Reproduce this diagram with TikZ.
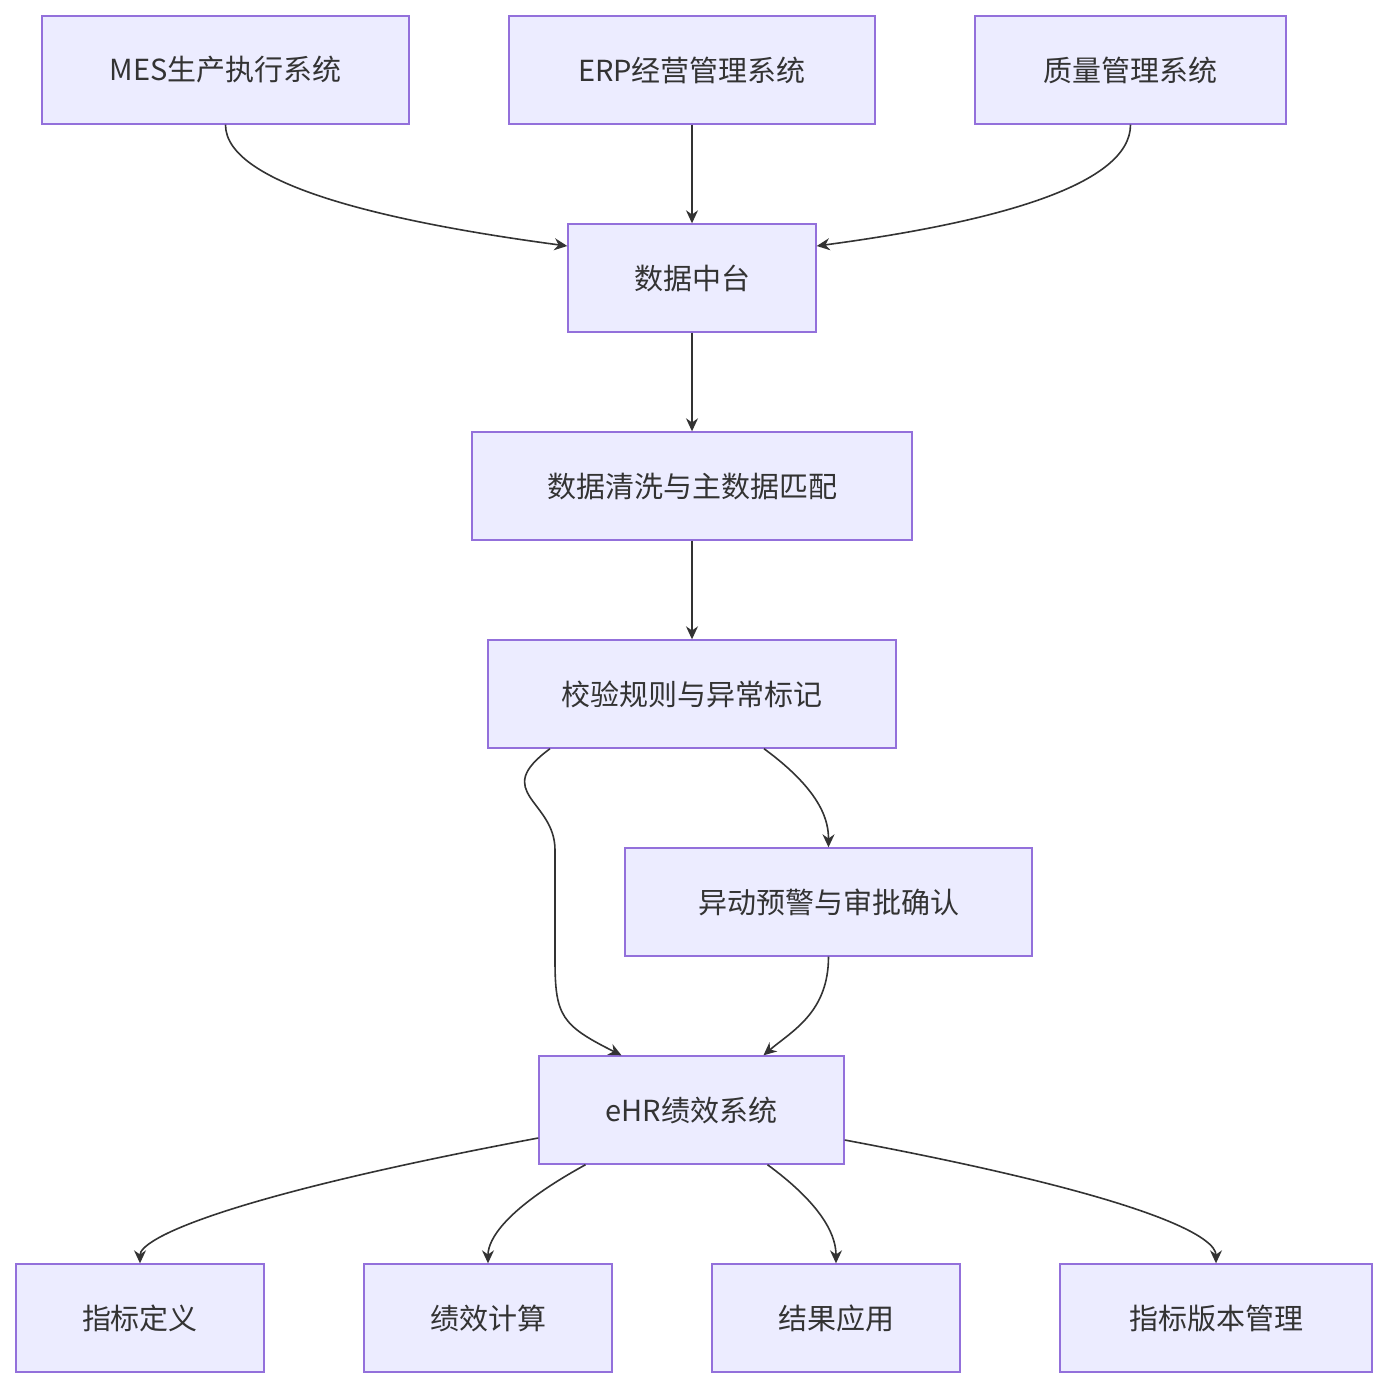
\documentclass[tikz,border=0pt]{standalone}
\usepackage{fontspec}
\setmainfont{Noto Sans CJK SC}
\usetikzlibrary{arrows.meta}
\definecolor{nf}{HTML}{ECECFF}
\definecolor{nb}{HTML}{9370DB}
\definecolor{ln}{HTML}{333333}
\begin{document}
\begin{tikzpicture}[x=0.5pt,y=-0.5pt,
  box/.style={draw=nb,fill=nf,line width=0.7pt,minimum height=54pt,inner sep=0pt,font=\fontsize{14.5pt}{17pt}\selectfont,text=ln},
  ar/.style={draw=ln,line width=0.8pt,-{Stealth[length=6.5pt,width=6pt]}}]
\useasboundingbox (0,0) rectangle (1388,1388);
\fill[white] (0,0) rectangle (1388,1388);
\node[box,minimum width=183.5pt] (mes) at (225.5,70) {MES生产执行系统};
\node[box,minimum width=183pt] (erp) at (692,70) {ERP经营管理系统};
\node[box,minimum width=155.5pt] (qm) at (1130.5,70) {质量管理系统};
\node[box,minimum width=124pt] (dz) at (692,278) {数据中台};
\node[box,minimum width=220pt] (qx) at (692,486) {数据清洗与主数据匹配};
\node[box,minimum width=204pt] (jy) at (692,694) {校验规则与异常标记};
\node[box,minimum width=203.5pt] (yd) at (828.5,902) {异动预警与审批确认};
\node[box,minimum width=152.5pt] (ehr) at (691.5,1110) {eHR绩效系统};
\node[box,minimum width=124pt] (b1) at (140,1318) {指标定义};
\node[box,minimum width=124pt] (b2) at (488,1318) {绩效计算};
\node[box,minimum width=124pt] (b3) at (836,1318) {结果应用};
\node[box,minimum width=156pt] (b4) at (1216,1318) {指标版本管理};
\draw[ar] (mes.south) .. controls +(0,-30pt) and +(-90pt,12pt) .. ([yshift=16pt]dz.west);
\draw[ar] (qm.south) .. controls +(0,-30pt) and +(90pt,12pt) .. ([yshift=16pt]dz.east);
\draw[ar] (erp.south) -- (dz.north);
\draw[ar] (dz.south) -- (qx.north);
\draw[ar] (qx.south) -- (jy.north);
\draw[ar] ([xshift=-71pt]jy.south) .. controls +(-30pt,-22pt) and +(0,25pt) .. (555,850) -- (555,960) .. controls +(0,-28pt) and +(-30pt,15pt) .. ([xshift=-35pt]ehr.north);
\draw[ar] ([xshift=36pt]jy.south) .. controls +(30pt,-22pt) and +(0,12pt) .. (yd.north);
\draw[ar] (yd.south) .. controls +(0,-28pt) and +(14pt,12pt) .. ([xshift=36pt]ehr.north);
\draw[ar] ([yshift=-14pt]ehr.west) .. controls +(-160pt,-30pt) and +(0,12pt) .. (b1.north);
\draw[ar] ([xshift=-53pt]ehr.south) .. controls +(-40pt,-22pt) and +(0,12pt) .. (b2.north);
\draw[ar] ([xshift=38pt]ehr.south) .. controls +(30pt,-22pt) and +(0,12pt) .. (b3.north);
\draw[ar] ([yshift=-15pt]ehr.east) .. controls +(160pt,-30pt) and +(0,12pt) .. (b4.north);
\end{tikzpicture}
\end{document}
